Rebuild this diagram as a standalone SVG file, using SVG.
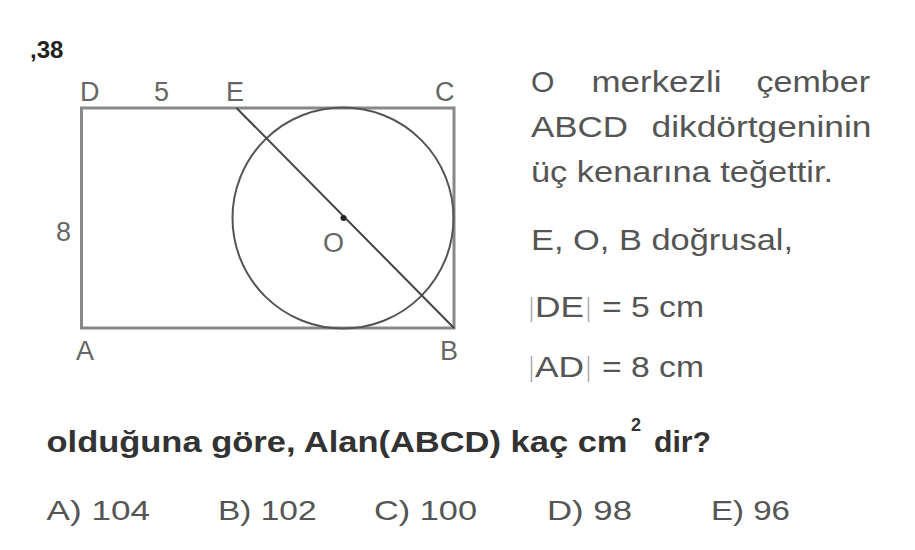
<svg xmlns="http://www.w3.org/2000/svg" width="915" height="550" viewBox="0 0 915 550">
<style>
.lbl{font-family:"Liberation Sans",Arial,sans-serif;font-size:27px;fill:#666}
.txt{font-family:"Liberation Sans",Arial,sans-serif;font-size:30px;fill:#555}
.q{font-family:"Liberation Sans",Arial,sans-serif;font-size:30px;font-weight:bold;fill:#333}
.sup{font-size:18px}
.ans{font-family:"Liberation Sans",Arial,sans-serif;font-size:28.5px;fill:#555}
.bar{stroke:#aaa;stroke-width:1.5}
</style>
<rect width="915" height="550" fill="#fff"/>
<text x="30" y="58" font-family="Liberation Sans,Arial,sans-serif" font-size="24" font-weight="bold" fill="#222">,38</text>
<g id="figure">
  <rect id="rect-ABCD" x="81.5" y="108" width="372.5" height="220" fill="none" stroke="#888" stroke-width="3"/>
  <circle id="circle-O" cx="343" cy="218" r="110.5" fill="none" stroke="#555" stroke-width="2"/>
  <g id="connectors">
    <line x1="236.5" y1="108" x2="454" y2="328" stroke="#444" stroke-width="2"/>
  </g>
  <circle id="point-O" cx="343.5" cy="218" r="3" fill="#222"/>
  <g id="labels">
    <text class="lbl" x="80" y="100.5">D</text>
    <text class="lbl" x="154" y="100.5">5</text>
    <text class="lbl" x="226" y="100.5">E</text>
    <text class="lbl" x="435" y="100.5">C</text>
    <text class="lbl" x="56" y="240.5">8</text>
    <text class="lbl" x="323" y="251.5">O</text>
    <text class="lbl" x="76" y="360">A</text>
    <text class="lbl" x="440" y="360">B</text>
  </g>
</g>
<g id="statement">
  <text class="txt" x="531" y="91.5">O</text>
  <text class="txt" x="591.5" y="91.5" textLength="130" lengthAdjust="spacingAndGlyphs">merkezli</text>
  <text class="txt" x="756.5" y="91.5" textLength="113.5" lengthAdjust="spacingAndGlyphs">çember</text>
  <text class="txt" x="531" y="137" textLength="97" lengthAdjust="spacingAndGlyphs">ABCD</text>
  <text class="txt" x="651.5" y="137" textLength="220" lengthAdjust="spacingAndGlyphs">dikdörtgeninin</text>
  <text class="txt" x="531" y="182" textLength="302" lengthAdjust="spacingAndGlyphs">üç kenarına teğettir.</text>
  <text class="txt" x="531" y="249.5" textLength="262" lengthAdjust="spacingAndGlyphs">E, O, B doğrusal,</text>
  <line class="bar" x1="531.5" y1="297" x2="531.5" y2="322"/>
  <text class="txt" x="535" y="317" textLength="49" lengthAdjust="spacingAndGlyphs">DE</text>
  <line class="bar" x1="588.5" y1="297" x2="588.5" y2="322"/>
  <text class="txt" x="602" y="317" textLength="102" lengthAdjust="spacingAndGlyphs">= 5 cm</text>
  <line class="bar" x1="531.5" y1="356" x2="531.5" y2="382"/>
  <text class="txt" x="535" y="376.5" textLength="49" lengthAdjust="spacingAndGlyphs">AD</text>
  <line class="bar" x1="588.5" y1="356" x2="588.5" y2="382"/>
  <text class="txt" x="602" y="376.5" textLength="102" lengthAdjust="spacingAndGlyphs">= 8 cm</text>
</g>
<g id="question">
  <text class="q" x="46.5" y="452" textLength="581" lengthAdjust="spacingAndGlyphs">olduğuna göre, Alan(ABCD) kaç cm</text>
  <text class="q sup" x="631" y="431">2</text>
  <text class="q" x="654" y="452" textLength="57" lengthAdjust="spacingAndGlyphs">dir?</text>
</g>
<g id="answers">
  <text class="ans" x="46.5" y="520" textLength="103.5" lengthAdjust="spacingAndGlyphs">A) 104</text>
  <text class="ans" x="218" y="520" textLength="98.5" lengthAdjust="spacingAndGlyphs">B) 102</text>
  <text class="ans" x="374" y="520" textLength="103" lengthAdjust="spacingAndGlyphs">C) 100</text>
  <text class="ans" x="547" y="520" textLength="85" lengthAdjust="spacingAndGlyphs">D) 98</text>
  <text class="ans" x="711" y="520" textLength="79" lengthAdjust="spacingAndGlyphs">E) 96</text>
</g>
</svg>
